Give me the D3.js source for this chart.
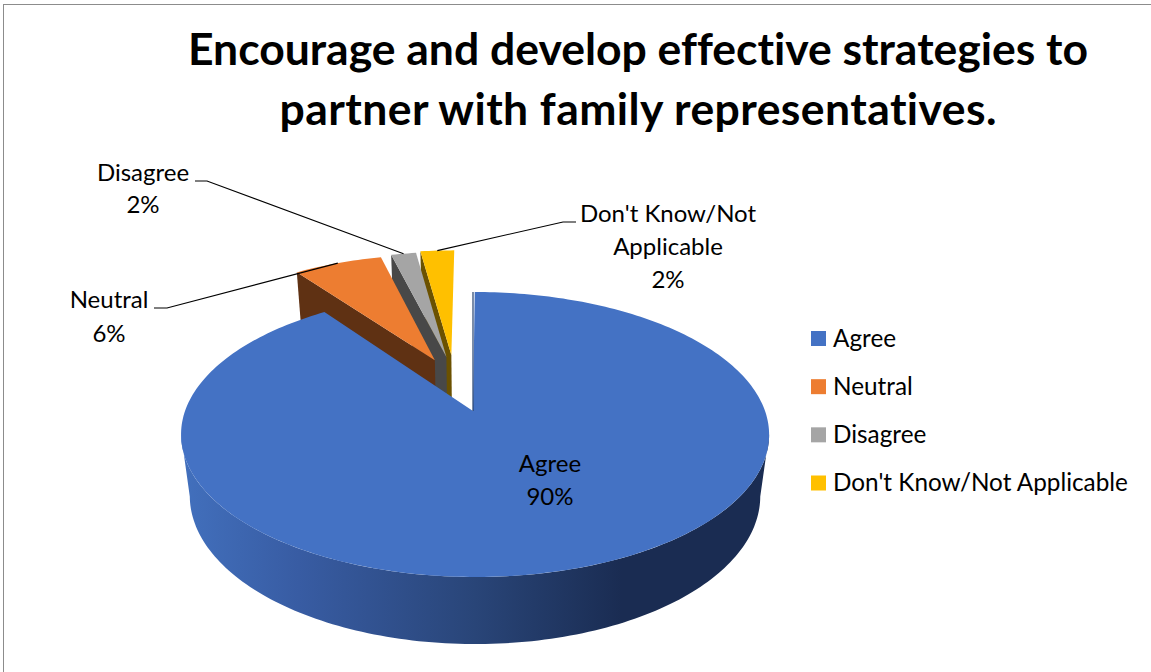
<!DOCTYPE html>
<html>
<head>
<meta charset="utf-8">
<script src="https://cdn.jsdelivr.net/npm/d3@7/dist/d3.min.js"></script>
<style>
html,body{margin:0;padding:0;background:#fff}
svg{display:block}
text{font-family:Lato,"Open Sans",sans-serif;fill:#000;font-variant-ligatures:none}
</style>
</head>
<body>
<svg id="chart" width="1151" height="672"></svg>
<script>
const titleLines = ["Encourage and develop effective strategies to", "partner with family representatives."];
const categories = ["Agree", "Neutral", "Disagree", "Don't Know/Not Applicable"];
const values = [90, 6, 1.7, 2.3];
const labelLines = [["Agree", "90%"], ["Neutral", "6%"], ["Disagree", "2%"], ["Don't Know/Not", "Applicable", "2%"]];
const topColors = ["#4472c4", "#ed7d31", "#a5a5a5", "#ffc000"];
const wallColors = ["#2f528f", "#5f3113", "#484848", "#6b5100"];

const svg = d3.select("#chart");
const W = 1151, H = 672;

// frame
svg.append("rect").attr("x", 3.5).attr("y", 4.5).attr("width", W).attr("height", H)
  .attr("fill", "none").attr("stroke", "#8c8c8c").attr("stroke-width", 1);

// perspective projection of the pie disc: u,v on the unit disc, h = 0 top face .. 1 bottom face
const cx = 473, cy = 411, B = 290, A = 138.6, D = 63, p = 0.165, q = 0.03;
function project(u, v, h) {
  const w = 1 - p * v + q * h;
  return [cx + B * u / w, cy + (A * v + D * h) / w];
}
const onRim = (a, off, h) => project(off[0] + Math.sin(a), off[1] - Math.cos(a), h);

const line = d3.line();
const pieAngles = d3.pie().sort(null).value(d => d)(values);
// apex of each slice on the disc, and of the rim it sweeps
const apex = [[0, 0], [-0.14, -0.39], [-0.098, -0.416], [-0.08, -0.433]];
const rimCentre = [[0.007, 0], [-0.14, -0.39], [-0.098, -0.416], [-0.08, -0.433]];
const STEP = 0.02;
function arcAngles(a0, a1) {
  const n = Math.max(2, Math.ceil((a1 - a0) / STEP));
  return d3.range(n + 1).map(i => a0 + (a1 - a0) * i / n);
}
function topFace(i) {
  const s = pieAngles[i], off = rimCentre[i], ap = apex[i];
  return [project(ap[0], ap[1], 0), ...arcAngles(s.startAngle, s.endAngle).map(a => onRim(a, off, 0))];
}
function startWall(i) {
  const s = pieAngles[i], off = rimCentre[i], ap = apex[i];
  return [project(ap[0], ap[1], 0), onRim(s.startAngle, off, 0), onRim(s.startAngle, off, 1), project(ap[0], ap[1], 1)];
}

const defs = svg.append("defs");
const grad = defs.append("linearGradient").attr("id", "sideGrad")
  .attr("gradientUnits", "userSpaceOnUse").attr("x1", 181).attr("x2", 769).attr("y1", 0).attr("y2", 0);
[[0, "#4270bd"], [0.2, "#385ca3"], [0.5, "#294578"], [0.75, "#1a2c52"], [1, "#1a2c52"]].forEach(d =>
  grad.append("stop").attr("offset", d[0]).attr("stop-color", d[1]));

const g = svg.append("g");
// back slices, far to near
[3, 2, 1].forEach(i => {
  g.append("path").attr("d", line(startWall(i)) + "Z").attr("fill", wallColors[i]);
  g.append("path").attr("d", line(topFace(i)) + "Z").attr("fill", topColors[i]);
});
// big slice side wall through the front of the disc
const frontAngles = arcAngles(1.735, 2 * Math.PI - 1.735);
const side = [...frontAngles.map(a => onRim(a, rimCentre[0], 0)), ...frontAngles.slice().reverse().map(a => onRim(a, rimCentre[0], 1))];
g.append("path").attr("d", line(side) + "Z").attr("fill", "url(#sideGrad)");
g.append("path").attr("d", line(topFace(0)) + "Z").attr("fill", topColors[0]);
// the edge-on cut of the big slice
g.append("path").attr("d", line([project(0, 0, 0), project(0, -1, 0)]))
  .attr("stroke", "#24406f").attr("stroke-width", 1.2).attr("fill", "none");

// title
const titleWidths = [900, 717];
svg.append("g").selectAll("text").data(titleLines).join("text")
  .attr("x", 638).attr("y", (d, i) => 65 + i * 60)
  .attr("text-anchor", "middle").attr("font-size", 44.5).attr("font-weight", 700)
  .attr("textLength", (d, i) => titleWidths[i]).attr("lengthAdjust", "spacing")
  .text(d => d);

// data labels
const labelPos = [
  { x: 550, y: 472, step: 33 },
  { x: 109, y: 308, step: 34 },
  { x: 143, y: 181, step: 32 },
  { x: 668, y: 222, step: 33 }
];
labelLines.forEach((ls, i) => {
  svg.append("g").selectAll("text").data(ls).join("text")
    .attr("x", labelPos[i].x).attr("y", (d, j) => labelPos[i].y + j * labelPos[i].step)
    .attr("text-anchor", "middle").attr("font-size", 24).text(d => d);
});

// leader lines: label end, elbow, then the middle of the slice's outer rim
const leaderStart = [null, [[154, 308], [167, 308]], [[195, 181], [207, 181]], [[576, 222], [563, 222]]];
leaderStart.forEach((pts, i) => {
  if (!pts) return;
  const s = pieAngles[i];
  const end = onRim((s.startAngle + s.endAngle) / 2, rimCentre[i], 0);
  svg.append("path").attr("d", line([...pts, end])).attr("fill", "none").attr("stroke", "#000").attr("stroke-width", 1.1);
});

// legend
const legendY = d3.scalePoint().domain(categories).range([339, 483.5]);
const legend = svg.append("g").selectAll("g").data(categories).join("g")
  .attr("transform", d => `translate(811,${legendY(d)})`);
legend.append("rect").attr("x", 0).attr("y", -8).attr("width", 15).attr("height", 15)
  .attr("fill", (d, i) => topColors[i]);
legend.append("text").attr("x", 22).attr("y", 7.5).attr("font-size", 24.3).text(d => d);
</script>
</body>
</html>
